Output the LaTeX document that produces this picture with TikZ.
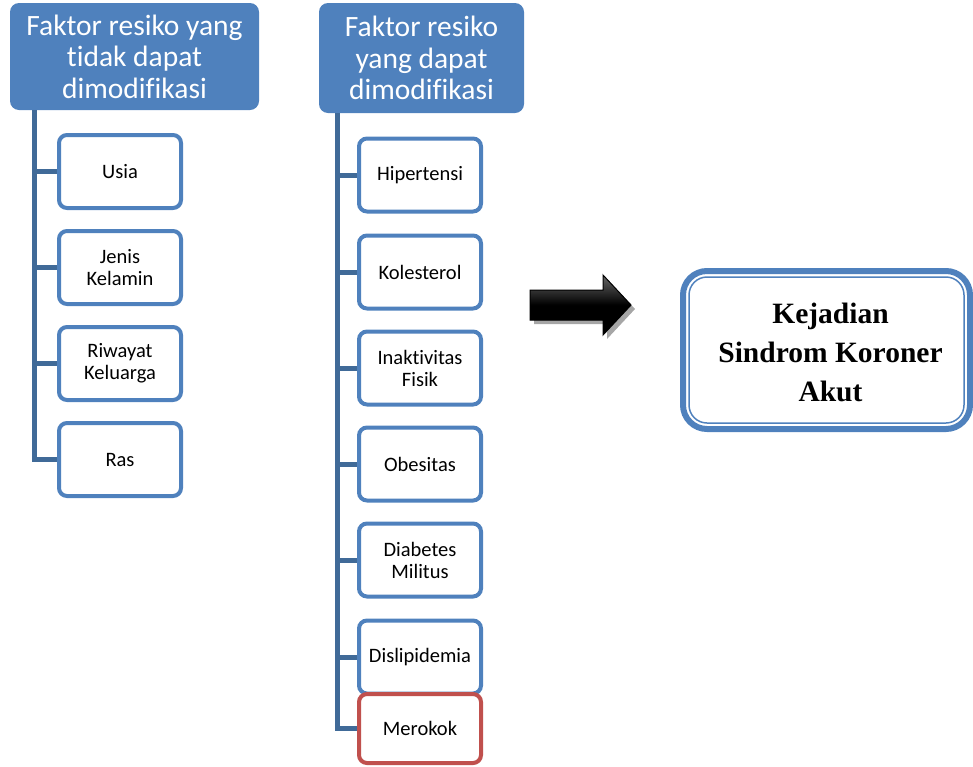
\documentclass[tikz,border=0pt]{standalone}
\usepackage{fontspec}
\setmainfont[Ligatures={NoCommon}]{Carlito}
\newfontfamily\serifbold{Liberation Serif}
\usetikzlibrary{shadings}
\definecolor{hdrblue}{RGB}{79,129,189}
\definecolor{trunkblue}{RGB}{64,106,152}
\definecolor{boxred}{RGB}{192,80,77}
\tikzset{
  hdr/.style={draw=none, fill=hdrblue, rounded corners=9pt, text=white, align=center,
    font=\fontsize{29.5}{31.5}\selectfont, inner sep=0pt},
  item/.style={draw=hdrblue, line width=4pt, fill=white, rounded corners=8pt, align=center,
    minimum width=122pt, minimum height=73pt, inner sep=0pt, font=\fontsize{20.5}{22}\selectfont},
  reditem/.style={item, draw=boxred},
  trunk/.style={draw=trunkblue, line width=5pt},
  stub/.style={draw=trunkblue, line width=5pt},
}
\begin{document}
\begin{tikzpicture}[x=1pt,y=-1pt]
\useasboundingbox (0,0) rectangle (973,766);
% left column
\node[hdr, minimum width=249pt, minimum height=107pt] (lh) at (134.5,56.5) {Faktor resiko yang\\tidak dapat\\dimodifikasi};
\coordinate (lt) at (34,110);
\node[item] (usia) at (120,171.5) {Usia};
\node[item] (jenis) at (120,267.5) {Jenis\\Kelamin};
\node[item] (riw) at (120,363.5) {Riwayat\\Keluarga};
\node[item] (ras) at (120,459.5) {Ras};
\draw[trunk] (lt) |- (ras.west);
\foreach \n in {usia,jenis,riw} \draw[stub] (\n.west -| lt) -- (\n.west);
% right column
\node[hdr, minimum width=205pt, minimum height=110pt] (rh) at (421.5,58) {Faktor resiko\\yang dapat\\dimodifikasi};
\coordinate (rt) at (337,113);
\node[item] (hip) at (420,175) {Hipertensi};
\node[item] (kol) at (420,272) {Kolesterol};
\node[item] (ina) at (420,368) {Inaktivitas\\Fisik};
\node[item] (obe) at (420,464) {Obesitas};
\node[item] (dia) at (420,560) {Diabetes\\Militus};
\node[item] (dis) at (420,657) {Dislipidemia};
\coordinate (mrk) at (420,728.5);
\draw[trunk] (rt) |- (mrk -| 357,0);
\foreach \n in {hip,kol,ina,obe,dia,dis} \draw[stub] (\n.west -| rt) -- (\n.west);
\node[reditem, minimum height=69pt] (mer) at (mrk) {Merokok};
% arrow
\fill[gray!70] (534,294) -- (607,294) -- (607,279) -- (635,309) -- (607,339) -- (607,324) -- (534,324) -- cycle;
\shade[top color=gray!80!black, bottom color=black, middle color=black, draw=black, line width=1pt]
  (530,290) -- (603,290) -- (603,275) -- (631,305) -- (603,335) -- (603,320) -- (530,320) -- cycle;
% result box
\node[draw=hdrblue, line width=6pt, rounded corners=24pt, minimum width=287pt, minimum height=158pt, inner sep=0pt] (res) at (826.5,350) {};
\node[draw=hdrblue, line width=1.5pt, rounded corners=18pt, minimum width=275pt, minimum height=146pt, inner sep=0pt] (resin) at (res.center) {};
\node[align=center, inner sep=0pt, font=\serifbold\bfseries\fontsize{29.5}{39}\selectfont] (restext) at ([xshift=4pt,yshift=-2pt]res.center) {Kejadian\\Sindrom Koroner\\Akut};
\end{tikzpicture}
\end{document}
